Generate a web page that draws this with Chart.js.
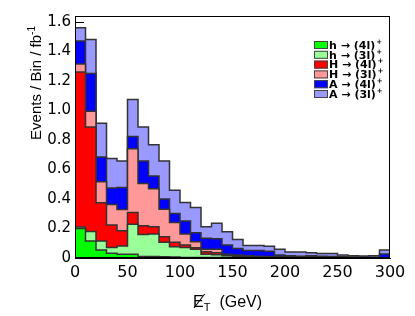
<!DOCTYPE html>
<html>
<head>
<meta charset="utf-8">
<script src="https://cdn.jsdelivr.net/npm/chart.js@4/dist/chart.umd.min.js"></script>
<style>
html, body { margin: 0; padding: 0; background: #fff; }
#wrap { width: 415px; height: 316px; }
</style>
</head>
<body>
<div id="wrap"><canvas id="chart" width="415" height="316"></canvas></div>
<script>
// ---------- DATA ----------
// left edge of each 10 GeV bin, last edge closes the histogram
const binStarts = [0, 10, 20, 30, 40, 50, 60, 70, 80, 90, 100, 110, 120, 130, 140,
    150, 160, 170, 180, 190, 200, 210, 220, 230, 240, 250, 260, 270, 280, 290];
const lastEdge = 300;

const seriesLabels = ["h \u2192 (4l)", "h \u2192 (3l)", "H \u2192 (4l)", "H \u2192 (3l)", "A \u2192 (4l)", "A \u2192 (3l)"];
const seriesColors = ["#00ff00", "#99ff99", "#ff0000", "#ff9999", "#0000ff", "#9999ff"];

// contributions per bin (stacked in this order, bottom to top)
const hTo4l = [0.200, 0.115, 0.054, 0.032, 0.025, 0.025, 0.010, 0.010, 0.008, 0.006, 0.004, 0.004, 0.004, 0.003, 0.003,
    0.002, 0.002, 0.002, 0.002, 0.001, 0.001, 0.001, 0.001, 0, 0, 0, 0, 0, 0, 0];
const hTo3l = [0.010, 0.065, 0.061, 0.040, 0.056, 0.203, 0.150, 0.152, 0.098, 0.070, 0.068, 0.055, 0.021, 0.019, 0.013,
    0.010, 0.006, 0.004, 0.003, 0.003, 0.002, 0.001, 0.001, 0.001, 0.001, 0.001, 0, 0, 0, 0];
const HTo4l = [1.050, 0.707, 0.259, 0.151, 0.103, 0.081, 0.058, 0.049, 0.038, 0.030, 0.016, 0.011, 0.018, 0.013, 0.004,
    0.003, 0.002, 0.002, 0.001, 0.001, 0.001, 0.001, 0.001, 0.001, 0.001, 0, 0.001, 0.001, 0.001, 0.001];
const HTo3l = [0.055, 0.108, 0.142, 0.140, 0.145, 0.432, 0.287, 0.259, 0.187, 0.135, 0.074, 0.040, 0.016, 0.024, 0.005,
    0.005, 0.005, 0.004, 0.004, 0.003, 0.002, 0.001, 0.005, 0.001, 0.001, 0.001, 0.001, 0.001, 0.001, 0.001];
const ATo4l = [0.155, 0.255, 0.169, 0.112, 0.148, 0.083, 0.152, 0.086, 0.068, 0.061, 0.088, 0.061, 0.074, 0.071, 0.063,
    0.045, 0.035, 0.038, 0.035, 0.012, 0.009, 0.008, 0.007, 0.009, 0.007, 0.006, 0.004, 0.004, 0.003, 0.025];
const ATo3l = [0.090, 0.230, 0.229, 0.199, 0.180, 0.250, 0.230, 0.212, 0.258, 0.157, 0.126, 0.172, 0.078, 0.105, 0.090,
    0.060, 0.035, 0.035, 0.035, 0.040, 0.025, 0.028, 0.020, 0.018, 0.020, 0.012, 0.009, 0.007, 0.010, 0.027];

const seriesValues = [hTo4l, hTo3l, HTo4l, HTo3l, ATo4l, ATo3l];

const yTickStep = 0.2;
const yMax = 1.64;
const xTickStep = 50;

// ---------- BUILD DATASETS ----------
function toSteps(values) {
    const pts = binStarts.map((x, i) => ({ x: x, y: values[i] }));
    pts.push({ x: lastEdge, y: values[values.length - 1] });
    return pts;
}

const datasets = seriesValues.map((vals, i) => ({
    label: seriesLabels[i],
    data: toSteps(vals),
    backgroundColor: seriesColors[i],
    borderColor: "#333",
    borderWidth: 1.5,
    pointRadius: 0,
    stepped: true,
    fill: i === 0 ? "origin" : "-1"
}));

// ---------- DECORATION PLUGIN ----------
const decor = {
    id: "decor",
    beforeDatasetsDraw(chart) {
        const { ctx, chartArea: a, scales: { y } } = chart;
        ctx.save();
        ctx.strokeStyle = "#000";
        ctx.lineWidth = 1;
        y.ticks.forEach(t => {
            const py = Math.round(y.getPixelForValue(t.value)) + 0.5;
            ctx.beginPath();
            ctx.moveTo(a.left, py);
            ctx.lineTo(a.left + 9, py);
            ctx.stroke();
        });
        ctx.restore();
    },
    afterDatasetsDraw(chart) {
        const { ctx, chartArea: a } = chart;
        ctx.save();
        // frame
        ctx.strokeStyle = "#000";
        ctx.lineWidth = 1;
        ctx.strokeRect(Math.round(a.left) + 0.5, Math.round(a.top) + 0.5,
            Math.round(a.right - a.left) - 1, Math.round(a.bottom - a.top) - 1);

        // legend
        const lx = 314, ly = 45, row = 9.8;
        ctx.textBaseline = "middle";
        seriesLabels.forEach((lab, i) => {
            const cy = ly + i * row;
            ctx.fillStyle = seriesColors[i];
            ctx.fillRect(lx, cy - 4, 14, 8);
            ctx.strokeStyle = "#444";
            ctx.strokeRect(lx + 0.5, cy - 3.5, 13, 7);
            ctx.fillStyle = "#000";
            ctx.font = "bold 11px 'DejaVu Sans', sans-serif";
            ctx.textAlign = "left";
            ctx.fillText(lab, lx + 15, cy + 1);
            const w = ctx.measureText(lab).width;
            ctx.font = "bold 7px 'DejaVu Sans', sans-serif";
            ctx.fillText("+", lx + 16 + w, cy - 3);
        });
        ctx.restore();
    },
    afterDraw(chart) {
        const ctx = chart.ctx;
        ctx.save();
        ctx.fillStyle = "#000";
        // y axis title, ending near the top of the axis
        const main = "Events / Bin / fb";
        const sup = "-1";
        ctx.font = "15px 'Liberation Sans', Arial, sans-serif";
        const wMain = ctx.measureText(main).width;
        ctx.font = "10px 'Liberation Sans', Arial, sans-serif";
        const wSup = ctx.measureText(sup).width;
        ctx.translate(36, 26 + wMain + wSup);
        ctx.rotate(-Math.PI / 2);
        ctx.textAlign = "left";
        ctx.textBaseline = "alphabetic";
        ctx.font = "15px 'Liberation Sans', Arial, sans-serif";
        ctx.fillText(main, 0, 5);
        ctx.font = "10px 'Liberation Sans', Arial, sans-serif";
        ctx.fillText(sup, wMain, -1);
        ctx.setTransform(1, 0, 0, 1, 0, 0);

        // x axis title: missing E_T (GeV)
        const bx = 193, by = 307;
        ctx.font = "16px 'Liberation Sans', Arial, sans-serif";
        ctx.textAlign = "left";
        ctx.fillText("E", bx, by);
        const wE = ctx.measureText("E").width;
        ctx.strokeStyle = "#000";
        ctx.lineWidth = 1.1;
        ctx.beginPath();
        ctx.moveTo(bx + 1, by + 1);
        ctx.lineTo(bx + wE + 1, by - 13);
        ctx.stroke();
        ctx.font = "11px 'Liberation Sans', Arial, sans-serif";
        ctx.fillText("T", bx + wE, by + 4);
        const wT = ctx.measureText("T").width;
        ctx.font = "16px 'Liberation Sans', Arial, sans-serif";
        ctx.fillText("(GeV)", bx + wE + wT + 9, by);
        ctx.restore();
    }
};

// ---------- CHART ----------
const ctx = document.getElementById("chart").getContext("2d");
new Chart(ctx, {
    type: "line",
    data: { datasets: datasets },
    options: {
        responsive: false,
        animation: false,
        devicePixelRatio: 1,
        layout: { padding: { top: 16, right: 25, left: 0, bottom: 0 } },
        plugins: {
            legend: { display: false },
            tooltip: { enabled: false }
        },
        scales: {
            x: {
                type: "linear",
                min: 0,
                max: lastEdge,
                grid: { display: false, drawTicks: false },
                border: { display: true, color: "#000" },
                ticks: {
                    stepSize: xTickStep,
                    padding: 5,
                    color: "#000",
                    maxRotation: 0,
                    font: { family: "'DejaVu Sans', sans-serif", size: 16 }
                },
                afterFit: s => { s.height = 58; }
            },
            y: {
                stacked: true,
                min: 0,
                max: yMax,
                grid: { display: false, drawTicks: false },
                border: { display: true, color: "#000" },
                ticks: {
                    stepSize: yTickStep,
                    includeBounds: false,
                    padding: 4,
                    color: "#000",
                    font: { family: "'DejaVu Sans', sans-serif", size: 15 }
                },
                afterFit: s => { s.width = 75; }
            }
        }
    },
    plugins: [decor]
});
</script>
</body>
</html>
